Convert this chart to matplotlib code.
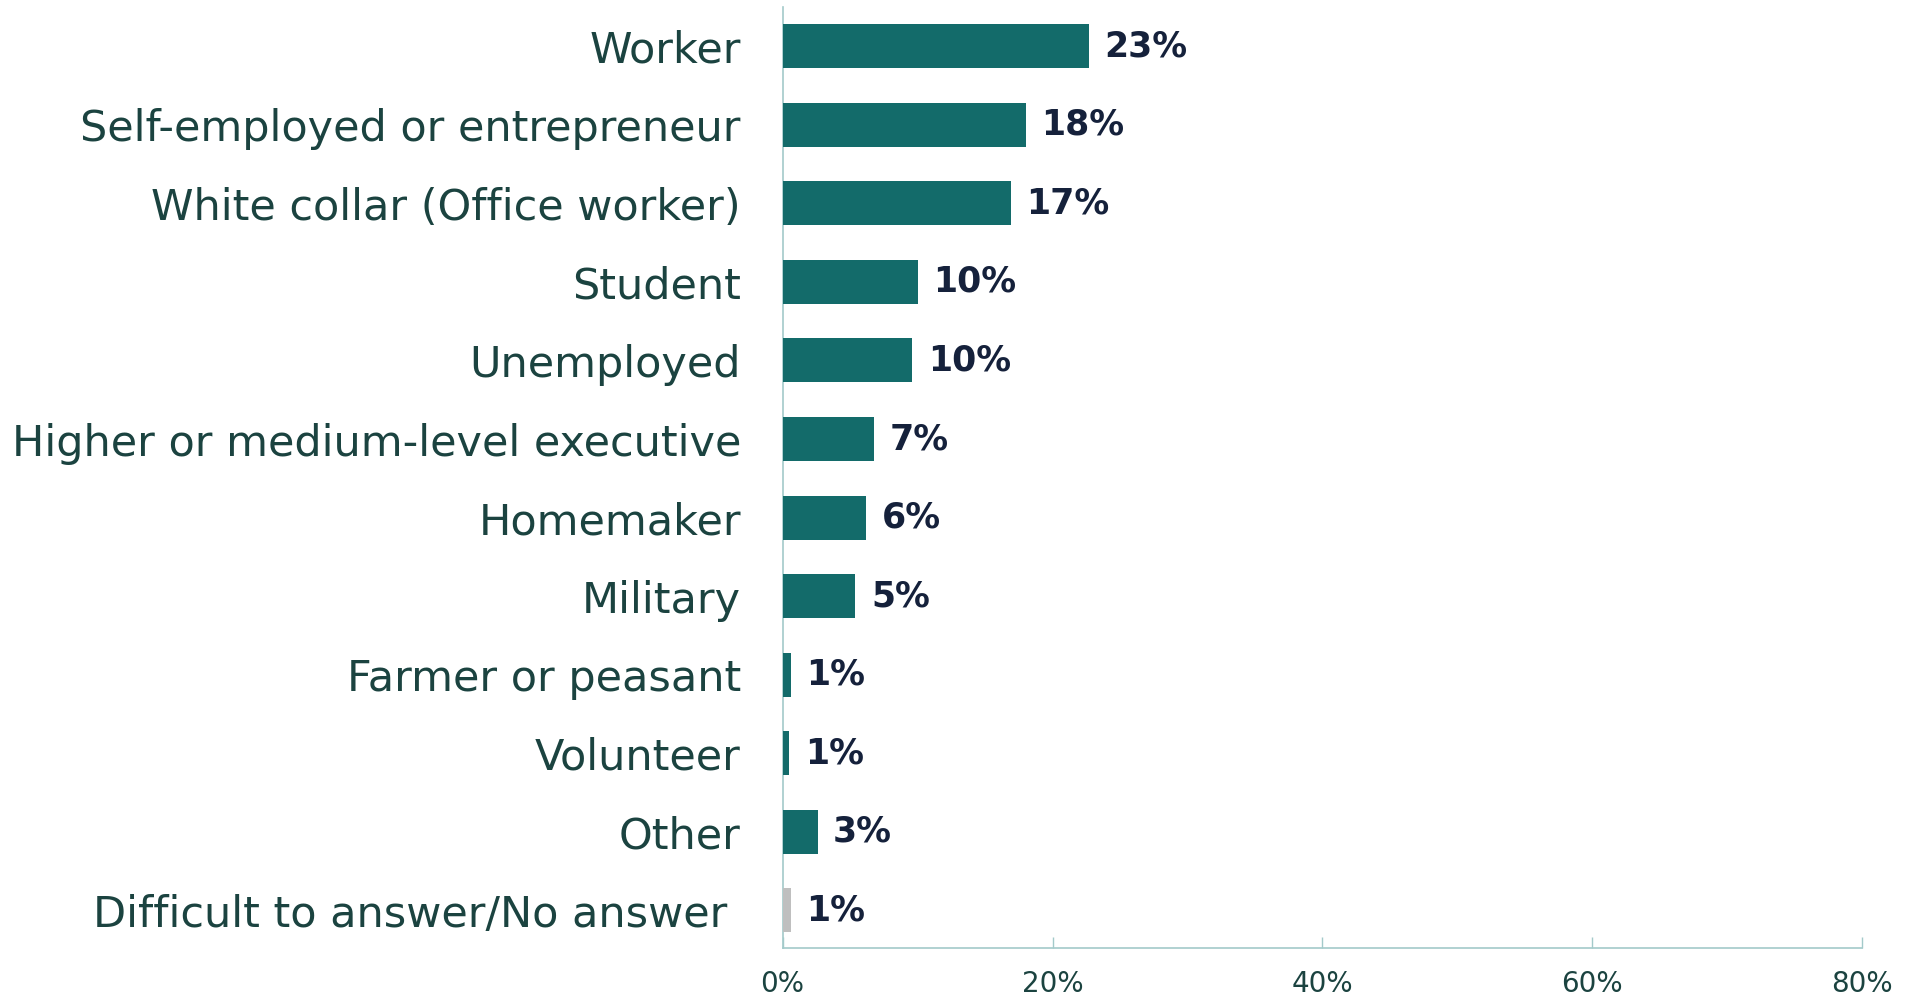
import matplotlib
matplotlib.use("Agg")
import matplotlib.pyplot as plt
import matplotlib.transforms as mtransforms

# ── Data ───────────────────────────────────────────────
categories = [
    "Worker",
    "Self-employed or entrepreneur",
    "White collar (Office worker)",
    "Student",
    "Unemployed",
    "Higher or medium-level executive",
    "Homemaker",
    "Military",
    "Farmer or peasant",
    "Volunteer",
    "Other",
    "Difficult to answer/No answer ",
]
values = [22.7, 18.0, 16.9, 10.0, 9.6, 6.8, 6.2, 5.4, 0.6, 0.5, 2.6, 0.6]
value_labels = ["23%", "18%", "17%", "10%", "10%", "7%", "6%", "5%",
                "1%", "1%", "3%", "1%"]
xticks = [0, 20, 40, 60, 80]

# ── Colors ─────────────────────────────────────────────
CLR_BAR = "#136B6A"
CLR_NA = "#BFBFBF"
CLR_CAT = "#1B4340"
CLR_VAL = "#15213B"
CLR_AXIS = "#A3CACA"

plt.rcParams["font.family"] = ["DejaVu Sans"]

fig = plt.figure(figsize=(19.18, 9.98), dpi=100)
ax = fig.add_axes([0.408, 0.050, 0.563, 0.943])

colors = [CLR_BAR] * (len(categories) - 1) + [CLR_NA]
y = list(range(len(categories)))
ax.barh(y, values, height=0.56, color=colors, zorder=3)

for yi, v, lbl in zip(y, values, value_labels):
    ax.text(v + 1.15, yi, lbl, ha="left", va="center", fontsize=25,
            fontweight="heavy", color=CLR_VAL)

ax.set_yticks(y)
ax.set_yticklabels(categories, fontsize=31, color=CLR_CAT)
ax.set_ylim(len(categories) - 0.52, -0.5)
ax.set_xlim(0, 80)
ax.set_xticks(xticks)
ax.set_xticklabels([f"{t}%" for t in xticks], fontsize=20, color=CLR_CAT)

# nudge category labels up a little
shift = mtransforms.ScaledTranslation(0, 3 / 72, fig.dpi_scale_trans)
for t in ax.get_yticklabels():
    t.set_transform(t.get_transform() + shift)

ax.tick_params(axis="y", length=0, pad=30)
ax.tick_params(axis="x", length=8, width=1, color=CLR_AXIS, pad=16,
               direction="in")
for s in ("top", "right"):
    ax.spines[s].set_visible(False)
for s in ("left", "bottom"):
    ax.spines[s].set_color(CLR_AXIS)
    ax.spines[s].set_linewidth(1.2)

fig.savefig("out.png", dpi=100)
